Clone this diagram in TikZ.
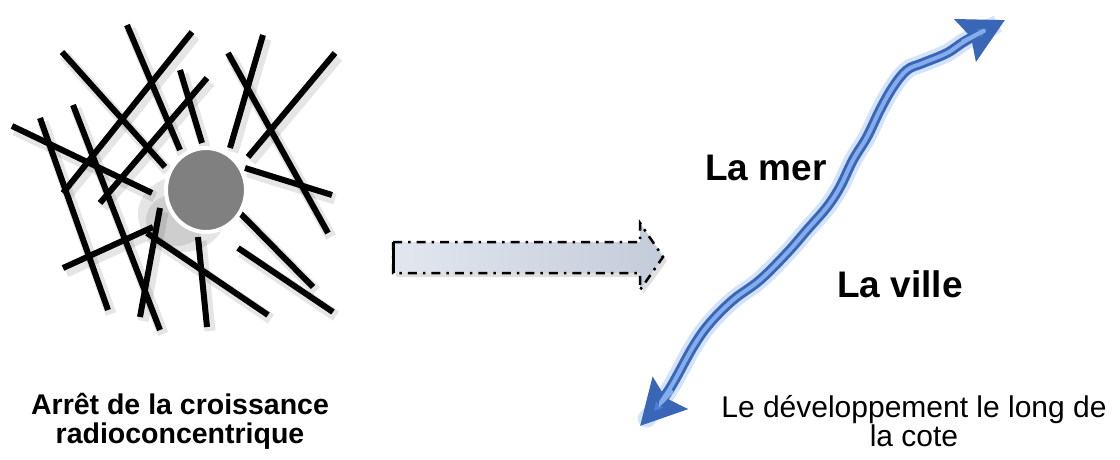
\documentclass[tikz,border=0pt]{standalone}
\usepackage{fontspec}
\setmainfont{Liberation Sans}
\usetikzlibrary{arrows.meta}

\definecolor{coastblue}{HTML}{3A66B8}
\definecolor{coastmid}{HTML}{4F80D6}
\definecolor{coastlight}{HTML}{86ADEB}
\definecolor{coastglow}{HTML}{D3E3F9}
\definecolor{arrowfillA}{HTML}{E2E7EF}
\definecolor{arrowfillB}{HTML}{C3CCDA}

\begin{document}
\begin{tikzpicture}[x=1pt,y=-1pt,
  stick/.style={line width=6pt},
  stickshadow/.style={line width=11pt, black, opacity=0.10},
  bigword/.style={font=\fontsize{37}{40}\selectfont\bfseries},
  leftcaption/.style={align=center, font=\fontsize{28.5}{29}\selectfont\bfseries},
  rightcaption/.style={align=center, font=\fontsize{30}{27}\selectfont}]
\useasboundingbox (0,0) rectangle (1120,460);

% the tangle of streets
\def\sticks{62/52/165/167, 127/25/180/150, 180/70/202/143,
  192/32/63/193, 207/78/100/203, 12/126/152/193,
  40/118/108/310, 73/105/160/330, 263/35/230/148,
  228/53/328/233, 335/53/248/157, 245/168/332/195,
  240/213/313/287, 238/248/333/312, 63/268/153/227,
  160/208/140/317, 147/233/268/315, 198/237/207/327}
\foreach \ax/\ay/\bx/\by in \sticks
  \draw[stickshadow] (\ax+3,\ay+4) -- (\bx+3,\by+4);
\foreach \ax/\ay/\bx/\by in \sticks
  \draw[stick] (\ax,\ay) -- (\bx,\by);

% the centre
\fill[black, opacity=0.10] (182,214) ellipse [x radius=44, y radius=38];
\fill[black, opacity=0.10] (176,220) ellipse [x radius=30, y radius=26];
\draw[white, line width=4pt, fill=black!50] (206,190)
  ellipse [x radius=40, y radius=42];

% the dashed arrow
\fill[black, opacity=0.12] (396,246) -- (643,246) -- (643,227) -- (667,261)
  -- (643,294) -- (643,277) -- (396,277) -- cycle;
\draw[left color=arrowfillA, right color=arrowfillB, line width=2.5pt,
  dash pattern=on 9pt off 6pt on 2.5pt off 6pt]
  (393,242) -- (640,242) -- (640,223) -- (663,257) -- (640,290)
  -- (640,273) -- (393,273) -- cycle;
\draw[line width=3pt] (393,242) -- (393,273);

% the coast line
\def\coast{(640,426) (667,393) (693,347) (710,323) (733,300) (760,280)
  (787,253) (807,230) (827,207) (840,187) (853,160) (867,137) (880,110)
  (893,87) (907,70) (923,63) (947,53) (967,40) (1005,20)}
\draw[coastglow, line width=18pt, line cap=round, shorten <=10pt, shorten >=10pt]
  plot[smooth, tension=0.6] coordinates {\coast};
\draw[coastblue, line width=10pt,
  {Stealth[length=44pt,width=46pt,inset=6pt,fill=coastmid]}-{Stealth[length=44pt,width=46pt,inset=6pt,fill=coastmid]}]
  plot[smooth, tension=0.6] coordinates {\coast};
\draw[coastlight, line width=4pt, shorten <=48pt, shorten >=48pt]
  plot[smooth, tension=0.6] coordinates {\coast};

% the texts
\node[bigword] (mer) at (766,168) {La mer};
\node[bigword] (ville) at (900,284) {La ville};
\node[leftcaption] (arret) at (180,421) {Arrêt de la croissance\\radioconcentrique};
\node[rightcaption] (cote) at (914,421) {Le développement le long de\\la cote};
\end{tikzpicture}
\end{document}
